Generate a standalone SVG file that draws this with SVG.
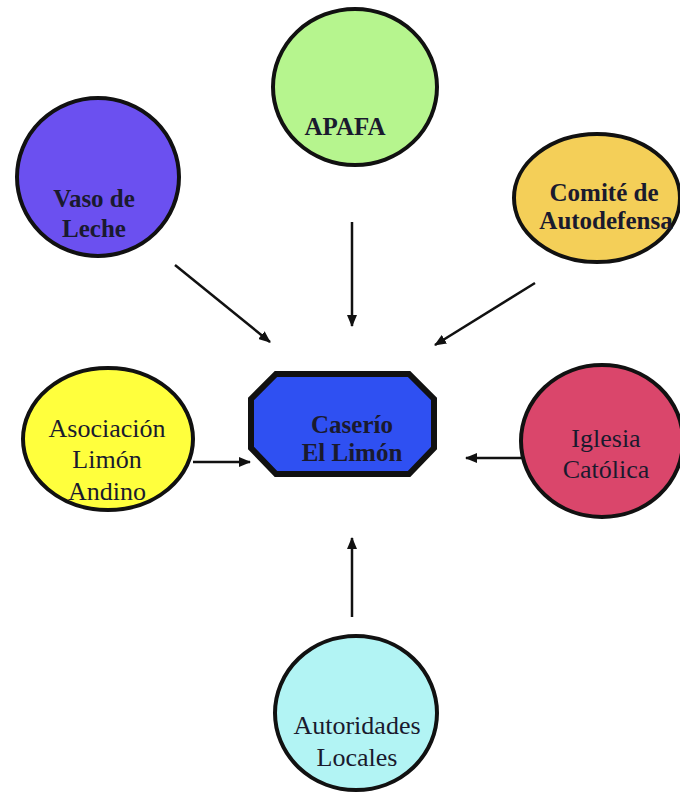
<svg xmlns="http://www.w3.org/2000/svg" width="680" height="793" viewBox="0 0 680 793">
<defs>
<marker id="ah" viewBox="0 0 12 10" refX="11" refY="5" markerWidth="12" markerHeight="10" markerUnits="userSpaceOnUse" orient="auto">
<path d="M0,0 L12,5 L0,10 z" fill="#111"/>
</marker>
<style>
.n{stroke:#111;stroke-width:4}
.t{fill:#1a1a2e;text-anchor:middle}
.b{font-weight:bold;font-size:25px}
.r{font-size:26px}
.c line{stroke:#111;stroke-width:2.5;marker-end:url(#ah)}
</style>
</defs>
<rect width="680" height="793" fill="#fff"/>
<g class="c" id="connectors">
<line x1="175" y1="265" x2="270" y2="342"/>
<line x1="352" y1="222" x2="352" y2="326"/>
<line x1="535" y1="283" x2="435" y2="345"/>
<line x1="193" y1="462" x2="250" y2="462"/>
<line x1="523" y1="458" x2="466" y2="458"/>
<line x1="352" y1="617" x2="352" y2="538"/>
</g>
<g font-family="'Liberation Serif', 'Times New Roman', serif">
<g id="apafa">
<ellipse class="n" cx="355" cy="87" rx="82" ry="78" fill="#b6f58e"/>
<text class="t b" x="345" y="135" font-size="24">APAFA</text>
</g>
<g id="vaso">
<ellipse class="n" cx="98" cy="177" rx="81" ry="79" fill="#6b50f0"/>
<text class="t b" x="94" y="207">Vaso de</text>
<text class="t b" x="94" y="237">Leche</text>
</g>
<g id="comite">
<ellipse class="n" cx="597" cy="198" rx="83" ry="64" fill="#f4cf58"/>
<text class="t b" x="604" y="201">Comité de</text>
<text class="t b" x="606" y="229">Autodefensa</text>
</g>
<g id="caserio">
<polygon points="276,374 409,374 434,399 434,448 409,474 276,474 251,448 251,399" fill="#2f50f2" stroke="#111" stroke-width="6" stroke-linejoin="miter"/>
<text class="t b" x="352" y="433" font-size="24" fill="#141850">Caserío</text>
<text class="t b" x="352" y="461" font-size="24" fill="#141850">El Limón</text>
</g>
<g id="asociacion">
<ellipse class="n" cx="108" cy="439" rx="85" ry="71" fill="#ffff3d"/>
<text class="t r" x="107" y="437">Asociación</text>
<text class="t r" x="107" y="468">Limón</text>
<text class="t r" x="107" y="500">Andino</text>
</g>
<g id="iglesia">
<ellipse class="n" cx="602" cy="441" rx="81" ry="76" fill="#da466b"/>
<text class="t r" x="606" y="447">Iglesia</text>
<text class="t r" x="606" y="478">Católica</text>
</g>
<g id="autoridades">
<ellipse class="n" cx="356" cy="713" rx="81" ry="77" fill="#b2f4f4"/>
<text class="t r" x="357" y="734">Autoridades</text>
<text class="t r" x="357" y="766">Locales</text>
</g>
</g>
</svg>
